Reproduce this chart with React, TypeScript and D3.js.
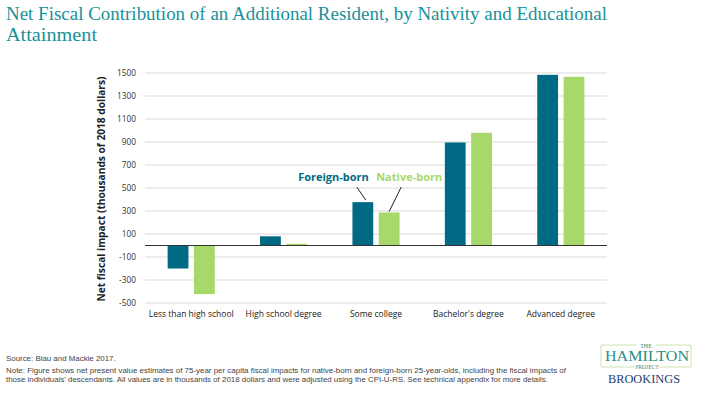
import React from "react";
import * as d3 from "d3";

const categories = [
  "Less than high school",
  "High school degree",
  "Some college",
  "Bachelor's degree",
  "Advanced degree",
];
const seriesNames = ["Foreign-born", "Native-born"];
const foreignBorn = [-200, 80, 377, 896, 1484];
const nativeBorn = [-423, 15, 287, 980, 1467];
const yTicks = [-500, -300, -100, 100, 300, 500, 700, 900, 1100, 1300, 1500];

const colors: Record<string, string> = {
  "Foreign-born": "#006a84",
  "Native-born": "#a6d86a",
};

const W = 702;
const H = 398;
const margin = { top: 73, right: 95, bottom: 95, left: 145 };

const App: React.FC = () => {
  const x0 = d3
    .scaleBand<string>()
    .domain(categories)
    .range([margin.left, W - margin.right])
    .paddingInner(0.49)
    .paddingOuter(0.245);

  const x1 = d3
    .scaleBand<string>()
    .domain(seriesNames)
    .range([0, x0.bandwidth()])
    .paddingInner(0.21);

  const y = d3
    .scaleLinear()
    .domain([-500, 1500])
    .range([H - margin.bottom, margin.top]);

  const rows = categories.map((c, i) => ({
    cat: c,
    values: [
      { key: "Foreign-born", v: foreignBorn[i] },
      { key: "Native-born", v: nativeBorn[i] },
    ],
  }));

  const font = "'Open Sans', 'Noto Sans', sans-serif";

  // annotation anchors (Some college bars)
  const sc = "Some college";
  const fbX = (x0(sc) ?? 0) + (x1("Foreign-born") ?? 0) + x1.bandwidth() / 2;
  const nbX = (x0(sc) ?? 0) + (x1("Native-born") ?? 0) + x1.bandwidth() / 2;
  const fbY = y(foreignBorn[2]);
  const nbY = y(nativeBorn[2]);

  return (
    <svg
      width={W}
      height={H}
      style={{ position: "absolute", left: 0, top: 0, background: "#fff" }}
    >
      {/* title */}
      <g fill="#1a9199" fontFamily="'Liberation Serif', 'DejaVu Serif', serif" fontSize={18}>
        <text x={6} y={20} textLength={601} lengthAdjust="spacingAndGlyphs">
          Net Fiscal Contribution of an Additional Resident, by Nativity and Educational
        </text>
        <text x={6} y={41} textLength={91} lengthAdjust="spacingAndGlyphs">
          Attainment
        </text>
      </g>

      {/* grid */}
      {yTicks.map((t) => (
        <g key={t}>
          <line
            x1={margin.left}
            x2={W - margin.right}
            y1={y(t)}
            y2={y(t)}
            stroke="#d9d9d9"
            strokeWidth={1}
          />
          <text
            x={136}
            y={y(t)}
            dy="0.35em"
            textAnchor="end"
            fontFamily={font}
            fontSize={8.3}
            fill="#333"
          >
            {t}
          </text>
        </g>
      ))}

      {/* bars */}
      {rows.map((r) => (
        <g key={r.cat} transform={`translate(${x0(r.cat)},0)`}>
          {r.values.map((d) => (
            <rect
              key={d.key}
              x={x1(d.key)}
              y={Math.min(y(d.v), y(0))}
              width={x1.bandwidth()}
              height={Math.abs(y(d.v) - y(0))}
              fill={colors[d.key]}
            />
          ))}
          <text
            x={x0.bandwidth() / 2}
            y={317}
            textAnchor="middle"
            fontFamily={font}
            fontSize={8.5}
            fill="#222"
          >
            {r.cat}
          </text>
        </g>
      ))}

      {/* zero line */}
      <line
        x1={margin.left}
        x2={W - margin.right}
        y1={y(0)}
        y2={y(0)}
        stroke="#333"
        strokeWidth={1.2}
      />

      {/* y axis title */}
      <text
        transform={`translate(105,${(y(-500) + y(1500)) / 2 + 1}) rotate(-90)`}
        textAnchor="middle"
        fontFamily={font}
        fontWeight="bold"
        fontSize={10.5}
        fill="#222"
        textLength={225}
        lengthAdjust="spacingAndGlyphs"
      >
        Net fiscal impact (thousands of 2018 dollars)
      </text>

      {/* annotations */}
      <text
        x={fbX + 6}
        y={fbY - 21.5}
        textAnchor="end"
        fontFamily={font}
        fontWeight="bold"
        fontSize={11}
        fill={colors["Foreign-born"]}
      >
        Foreign-born
      </text>
      <line x1={fbX - 6} y1={fbY - 15} x2={fbX + 3} y2={fbY - 2} stroke="#222" strokeWidth={1} />
      <text
        x={nbX - 13}
        y={fbY - 21.5}
        textAnchor="start"
        fontFamily={font}
        fontWeight="bold"
        fontSize={11}
        fill={colors["Native-born"]}
      >
        Native-born
      </text>
      <line x1={nbX + 12} y1={fbY - 15} x2={nbX} y2={nbY - 1} stroke="#222" strokeWidth={1} />

      {/* footer */}
      <g fontFamily="'Liberation Sans', Arial, sans-serif" fontSize={7.9} fill="#444">
        <text x={6} y={361}>Source: Blau and Mackie 2017.</text>
        <text x={6} y={373} textLength={560} lengthAdjust="spacingAndGlyphs">
          Note: Figure shows net present value estimates of 75-year per capita fiscal impacts for native-born and foreign-born 25-year-olds, including the fiscal impacts of
        </text>
        <text x={6} y={381.5}>
          those individuals' descendants. All values are in thousands of 2018 dollars and were adjusted using the CPI-U-RS. See technical appendix for more details.
        </text>
      </g>

      {/* logo */}
      <g fontFamily="'Liberation Serif', 'DejaVu Serif', serif" textAnchor="middle">
        <path
          d="M636,345 L601,345 L601,367 L635,367 M659,367 L691,367 L691,345 L656,345"
          fill="none"
          stroke="#cfe3b5"
          strokeWidth={1}
        />
        <text x={646} y={347.5} fontSize={6} fill="#2a8f86">THE</text>
        <text x={647} y={361} fontSize={14} fill="#2a8f86" textLength={84} lengthAdjust="spacingAndGlyphs">
          HAMILTON
        </text>
        <text x={647} y={369} fontSize={5.5} fill="#2a8f86">PROJECT</text>
        <text x={644} y={383} fontSize={12} fill="#1f3d73" textLength={72} lengthAdjust="spacingAndGlyphs">
          BROOKINGS
        </text>
      </g>
    </svg>
  );
};

export default App;
